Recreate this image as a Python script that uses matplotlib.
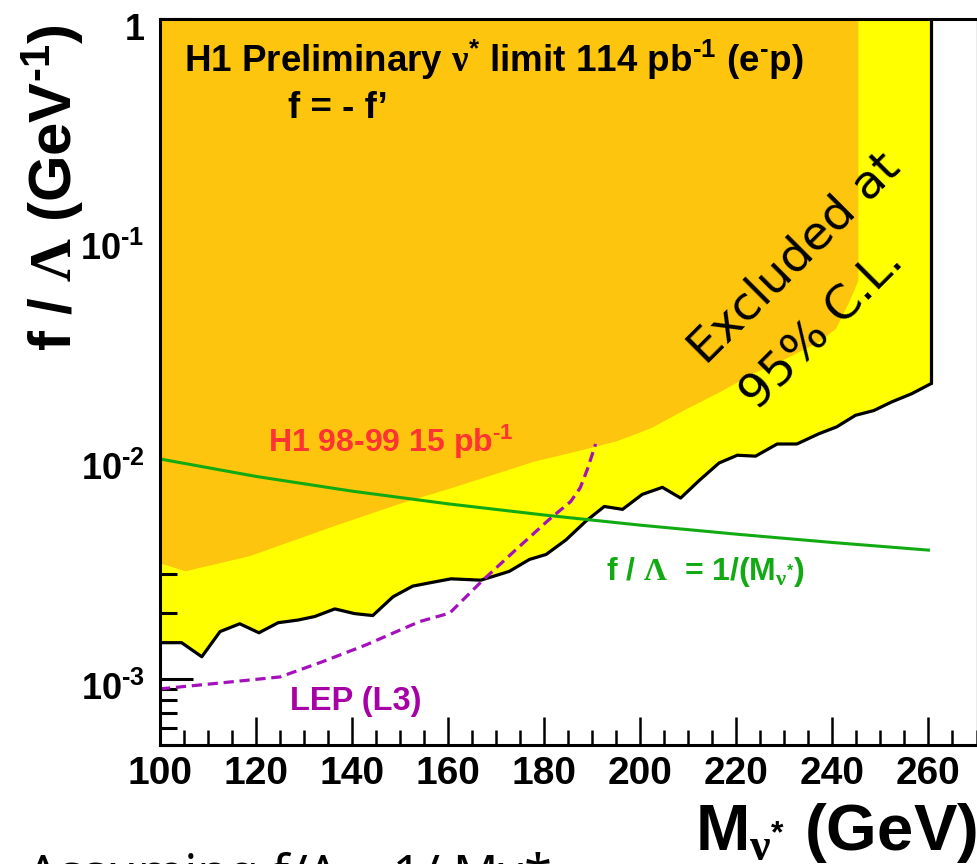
import matplotlib
matplotlib.use("Agg")
import matplotlib.pyplot as plt
from matplotlib.ticker import FixedLocator, FixedFormatter, LogLocator, NullFormatter, MultipleLocator
from matplotlib.transforms import ScaledTranslation

plt.rcParams['font.family'] = ['Liberation Sans', 'DejaVu Sans']
plt.rcParams['font.weight'] = 'bold'
plt.rcParams['mathtext.fontset'] = 'custom'
plt.rcParams['mathtext.rm'] = 'Liberation Sans:bold'
plt.rcParams['mathtext.it'] = 'Liberation Sans:bold'
plt.rcParams['mathtext.bf'] = 'Liberation Sans:bold'
plt.rcParams['mathtext.sf'] = 'Liberation Serif'

# new H1 limit (black line, yellow excluded area above it)
mass_h1 = [100, 104.5, 108.7, 112.5, 116.6, 120.6, 124.6, 128.7, 132.2, 136.4,
           140.5, 144.3, 148.5, 152.6, 156.8, 160.6, 166.8, 172.7, 176.9, 180.4,
           184.5, 188.7, 192.5, 196.3, 200.4, 204.6, 208.4, 212.2, 216.4, 220.2,
           224.0, 228.5, 232.6, 237.1, 240.9, 244.8, 248.6, 252.4, 256.5, 260.5]
limit_h1 = [1.46e-3, 1.46e-3, 1.26e-3, 1.64e-3, 1.78e-3, 1.62e-3, 1.80e-3, 1.85e-3, 1.92e-3, 2.08e-3,
            1.98e-3, 1.94e-3, 2.36e-3, 2.64e-3, 2.75e-3, 2.85e-3, 2.81e-3, 3.08e-3, 3.49e-3, 3.68e-3,
            4.28e-3, 5.22e-3, 6.08e-3, 5.90e-3, 6.90e-3, 7.43e-3, 6.64e-3, 7.96e-3, 9.59e-3, 1.04e-2,
            1.03e-2, 1.17e-2, 1.17e-2, 1.30e-2, 1.40e-2, 1.58e-2, 1.66e-2, 1.82e-2, 1.98e-2, 2.20e-2]

# H1 98-99 limit (orange area)
mass_old = [100, 105.2, 118.7, 136, 150, 160.5, 170.6, 178, 183, 189, 195, 200,
            202.5, 209.4, 216.4, 223.3, 230.2, 237.1, 240.6, 243.4, 245.3]
limit_old = [3.37e-3, 3.10e-3, 3.64e-3, 4.96e-3, 6.3e-3, 7.4e-3, 8.7e-3, 9.8e-3, 1.04e-2, 1.12e-2,
             1.21e-2, 1.33e-2, 1.40e-2, 1.69e-2, 2.02e-2, 2.45e-2, 2.87e-2, 3.42e-2, 3.92e-2,
             5.2e-2, 6.5e-2]

# LEP (L3) limit
mass_lep = [100, 111, 125, 134, 143, 154, 160.3, 167, 174, 181, 185.5, 187.5, 189, 190.7]
limit_lep = [9.0e-4, 9.5e-4, 1.02e-3, 1.2e-3, 1.43e-3, 1.82e-3, 1.99e-3, 2.78e-3, 3.85e-3,
             5.3e-3, 6.4e-3, 7.4e-3, 9.0e-3, 1.17e-2]

# f / Lambda = 1 / M
mass_theo = [100, 120, 140, 160, 180, 200, 220, 240, 260]
coupling_theo = [0.0100, 0.00833, 0.00714, 0.00625, 0.00556, 0.00500, 0.00455, 0.00417, 0.00385]

HY = '\u2010'  # short hyphen for superscripts
ytick_vals = [1e-3, 1e-2, 1e-1, 1]
ytick_labels = ['$10^{%s3}$' % HY, '$10^{%s2}$' % HY, '$10^{%s1}$' % HY, '1']

W, H = 977, 864
fig = plt.figure(figsize=(W / 100, H / 100), dpi=100)


def fx(x):
    return x / W


def fy(y):
    return 1 - y / H


ax = fig.add_axes([fx(160), fy(745), fx(976.5 - 160), (745 - 19.3) / H])
ax.set_yscale('log')
ax.set_xlim(100, 270)
ax.set_ylim(5e-4, 1)

orange = '#fdc50e'
yellow = '#ffff00'
ax.fill_between(mass_h1, limit_h1, 1, color=yellow, lw=0, zorder=1)
ax.fill_between(mass_old, limit_old, 1, color=orange, lw=0, zorder=2)
ax.plot(mass_h1, limit_h1, color='black', lw=2.3, zorder=4)
ax.vlines(mass_h1[-1], limit_h1[-1], 1, color='black', lw=2.3, zorder=4)
ax.plot(mass_theo, coupling_theo, color='#12aa12', lw=2.2, zorder=5)
ax.plot(mass_lep, limit_lep, color='#a510bd', lw=2.3, dashes=(3.2, 1.8), zorder=5)

# axes styling
for side in ['left', 'bottom', 'top']:
    ax.spines[side].set_linewidth(2.2)
ax.spines['right'].set_linewidth(1.0)
ax.spines['right'].set_color('#999999')
for s in ax.spines.values():
    s.set_zorder(6)

ax.yaxis.set_major_locator(FixedLocator(ytick_vals))
ax.yaxis.set_major_formatter(FixedFormatter(ytick_labels))
ax.yaxis.set_minor_locator(LogLocator(base=10, subs=[2, 3, 4, 5, 6, 7, 8, 9]))
ax.yaxis.set_minor_formatter(NullFormatter())
ax.xaxis.set_major_locator(MultipleLocator(20))
ax.xaxis.set_minor_locator(MultipleLocator(5))

ax.tick_params(axis='y', which='major', direction='in', length=24, width=2.2, labelsize=26, pad=11,
               right=False)
ax.tick_params(axis='y', which='minor', direction='in', length=12, width=2.2, right=False)
ax.tick_params(axis='x', which='major', direction='in', length=20, width=1.8, labelsize=28, pad=8,
               top=False)
ax.tick_params(axis='x', which='minor', direction='in', length=11, width=1.8, top=False)
for lab in ax.get_xticklabels() + ax.get_yticklabels():
    lab.set_fontweight('bold')
# y labels sit a little below their ticks in the original
shift = ScaledTranslation(0, -7 / 100, fig.dpi_scale_trans)
for lab in ax.get_yticklabels():
    lab.set_transform(lab.get_transform() + shift)

# texts
fig.text(fx(184), fy(71.7),
         r'H1 Preliminary $\mathsf{\nu}^{*}$ limit 114 pb$^{%s1}$ (e$^{%s}$p)' % (HY, HY),
         fontsize=26.5, ha='left', va='baseline')
fig.text(fx(288), fy(118), 'f = - f\u2019', fontsize=26.5, ha='left', va='baseline')
fig.text(fx(268), fy(451.7), 'H1 98-99 15 pb$^{%s1}$' % HY, fontsize=23, color='#ff3333',
         ha='left', va='baseline', zorder=7)
fig.text(fx(290), fy(710), 'LEP (L3)', fontsize=23.5, color='#a600a6', ha='left', va='baseline')
fig.text(fx(606), fy(580), r'f / $\mathsf{\Lambda}$  = 1/(M$_{\mathsf{\nu}^{*}}$)', fontsize=23,
         color='#12aa12', ha='left', va='baseline')

fig.text(fx(706), fy(366), 'Excluded at', fontsize=34, fontweight='normal', family='DejaVu Sans',
         rotation=45, rotation_mode='anchor', ha='left', va='baseline')
fig.text(fx(758), fy(412), '95% C.L.', fontsize=34, fontweight='normal', family='DejaVu Sans',
         rotation=45, rotation_mode='anchor', ha='left', va='baseline')

fig.text(fx(52), fy(188), r'f / $\mathsf{\Lambda}$ (GeV$^{%s1}$)' % HY, fontsize=43, rotation=90,
         ha='center', va='center')
fig.text(fx(695), fy(850), r'M$_{\mathsf{\nu}^{*}}$ (GeV)', fontsize=47, ha='left', va='baseline')

fig.text(fx(27), fy(852), 'Assuming f/\u039b = 1/ M\u03bd*', fontsize=36, fontweight='normal',
         family='Noto Sans', ha='left', va='top')

fig.savefig('out.png', dpi=100)
